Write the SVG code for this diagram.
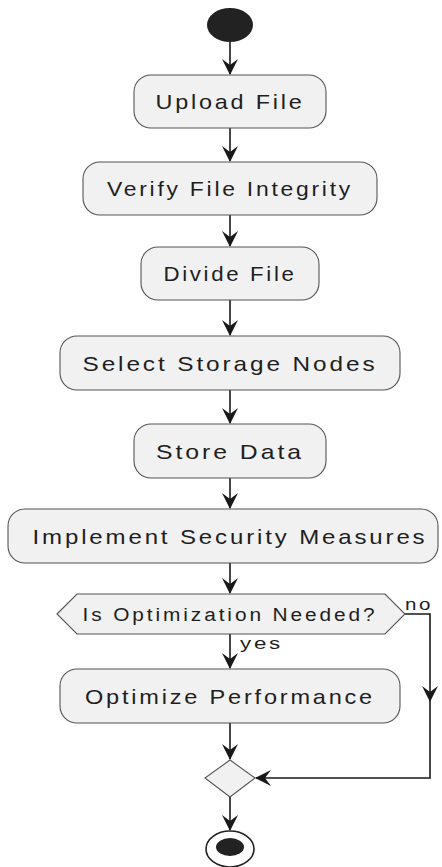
<svg xmlns="http://www.w3.org/2000/svg" width="442" height="867" viewBox="0 0 442 867">
<style>
.box{fill:#F1F1F1;stroke:#555555;stroke-width:1.1}
.t{font-family:"Liberation Sans",Arial,sans-serif;font-size:21px;fill:#1e1e1e;text-anchor:middle;letter-spacing:2.5px}
.lbl{font-family:"Liberation Sans",Arial,sans-serif;font-size:16px;fill:#1e1e1e;letter-spacing:2px}
.ln{fill:none;stroke:#181818;stroke-width:1.6}
.ah{fill:#181818;stroke:none}
</style>
<defs>
<path id="ad" d="M0,0 L-8,-16 L0,-10 L8,-16 Z"/>
</defs>
<rect width="442" height="867" fill="#ffffff"/>
<g id="connectors">
<line class="ln" x1="230" y1="42" x2="230" y2="74"/><use href="#ad" class="ah" x="230" y="75"/>
<line class="ln" x1="230" y1="128" x2="230" y2="161"/><use href="#ad" class="ah" x="230" y="162"/>
<line class="ln" x1="230" y1="215" x2="230" y2="246"/><use href="#ad" class="ah" x="230" y="247"/>
<line class="ln" x1="230" y1="300" x2="230" y2="335"/><use href="#ad" class="ah" x="230" y="336"/>
<line class="ln" x1="230" y1="390" x2="230" y2="423"/><use href="#ad" class="ah" x="230" y="424"/>
<line class="ln" x1="230" y1="478" x2="230" y2="508"/><use href="#ad" class="ah" x="230" y="509"/>
<line class="ln" x1="230" y1="563" x2="230" y2="593"/><use href="#ad" class="ah" x="230" y="594"/>
<line class="ln" x1="230" y1="634" x2="230" y2="668"/><use href="#ad" class="ah" x="230" y="669"/>
<line class="ln" x1="230" y1="723" x2="230" y2="759"/><use href="#ad" class="ah" x="230" y="760"/>
<line class="ln" x1="230" y1="797" x2="230" y2="830"/><use href="#ad" class="ah" x="230" y="831"/>
<polyline class="ln" points="405,614 430,614 430,778 256,778"/>
<use href="#ad" class="ah" x="430" y="702"/>
<use href="#ad" class="ah" transform="translate(255,778) rotate(90)"/>
<text class="lbl" x="405" y="610" textLength="28" lengthAdjust="spacingAndGlyphs">no</text>
<text class="lbl" x="240" y="649" textLength="43" lengthAdjust="spacingAndGlyphs">yes</text>
</g>
<g id="start"><ellipse cx="230" cy="25" rx="23" ry="17" fill="#222"/></g>
<g id="upload"><rect class="box" x="134" y="75" width="192" height="53" rx="17" ry="17"/><text class="t" x="230" y="109" textLength="149" lengthAdjust="spacingAndGlyphs">Upload File</text></g>
<g id="verify"><rect class="box" x="83" y="162" width="294" height="53" rx="17" ry="17"/><text class="t" x="230" y="196" textLength="246" lengthAdjust="spacingAndGlyphs">Verify File Integrity</text></g>
<g id="divide"><rect class="box" x="141" y="247" width="178" height="53" rx="17" ry="17"/><text class="t" x="230" y="281" textLength="133" lengthAdjust="spacingAndGlyphs">Divide File</text></g>
<g id="select"><rect class="box" x="60" y="336" width="340" height="54" rx="17" ry="17"/><text class="t" x="230" y="370.5" textLength="295" lengthAdjust="spacingAndGlyphs">Select Storage Nodes</text></g>
<g id="store"><rect class="box" x="134" y="424" width="192" height="54" rx="17" ry="17"/><text class="t" x="230" y="458.5" textLength="148" lengthAdjust="spacingAndGlyphs">Store Data</text></g>
<g id="security"><rect class="box" x="8" y="509" width="430" height="54" rx="17" ry="17"/><text class="t" x="230" y="543.5" textLength="395" lengthAdjust="spacingAndGlyphs">Implement Security Measures</text></g>
<g id="decision"><polygon class="box" points="57,614 77,594 385,594 405,614 385,634 77,634"/><text class="t" x="230" y="620.5" style="font-size:18px;letter-spacing:2.5px" textLength="295" lengthAdjust="spacingAndGlyphs">Is Optimization Needed?</text></g>
<g id="optimize"><rect class="box" x="60" y="669" width="340" height="54" rx="17" ry="17"/><text class="t" x="230" y="703.5" textLength="290" lengthAdjust="spacingAndGlyphs">Optimize Performance</text></g>
<g id="merge"><polygon class="box" points="230,760 255,778 230,797 205,778"/></g>
<g id="end"><ellipse cx="230" cy="849" rx="24" ry="18" fill="#fff" stroke="#222" stroke-width="1.6"/><ellipse cx="230" cy="847" rx="14" ry="9" fill="#222"/></g>
</svg>
